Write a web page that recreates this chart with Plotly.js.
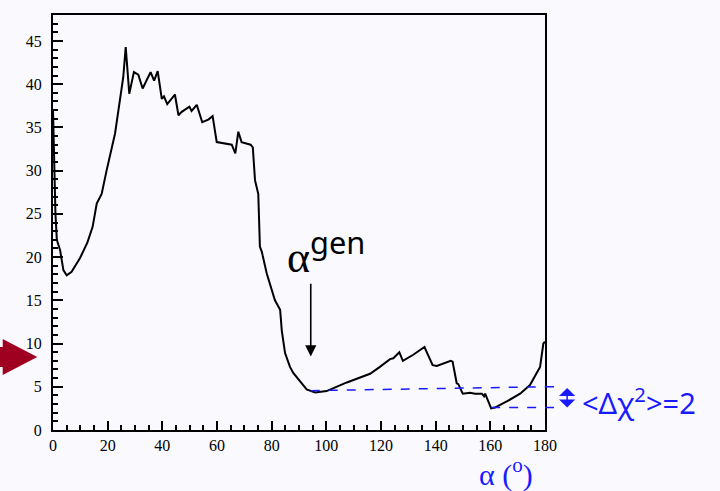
<!DOCTYPE html>
<html>
<head>
<meta charset="utf-8">
<script src="https://cdn.plot.ly/plotly-3.0.1.min.js"></script>
<style>html,body{margin:0;padding:0;background:#fafafe;}</style>
</head>
<body>
<div id="chart" style="width:720px;height:491px;"></div>
<script>
// alpha (degrees) and chi2 values
const alphaDeg = [0, 0.4, 0.9, 1.4, 2.6, 3.8, 5.0, 6.8, 9.9, 12.6, 14.5, 16.0, 17.2, 17.8, 19.6, 22.7, 25.7, 26.6, 27.9, 29.6,
  31.2, 32.8, 35.7, 37.0, 38.3, 39.8, 40.6, 41.8, 44.6, 45.9, 47.1, 49.9, 50.7, 52.6, 54.6, 56.8, 58.4, 59.9, 65.4, 66.7,
  67.8, 69.0, 72.3, 73.1, 73.9, 75.1, 75.7, 76.4, 78.2, 81.2, 83.1, 83.7, 84.9, 86.7, 87.9, 91.0, 92.8, 95.9, 100.1, 107.5,
  112.3, 116.0, 119.6, 123.3, 124.5, 126.7, 128.0, 131.8, 135.9, 137.3, 138.9, 140.4, 144.0, 145.5, 146.2, 147.7, 148.3, 149.9, 152.6, 154.4,
  156.9, 157.7, 158.1, 160.3, 161.7, 166.0, 170.9, 174.5, 178.2, 179.4, 180];
const chi2 = [37.0, 30.0, 25.0, 22.0, 20.8, 18.5, 17.9, 18.3, 19.9, 21.7, 23.5, 26.2, 26.9, 27.3, 30.0, 34.3, 40.8, 44.3, 38.9, 41.4,
  41.1, 39.5, 41.4, 40.4, 41.5, 38.3, 38.6, 37.7, 38.8, 36.4, 36.8, 37.4, 36.9, 37.6, 35.6, 35.9, 36.3, 33.3, 33.0, 32.0,
  34.5, 33.3, 33.0, 32.7, 28.9, 27.3, 21.2, 20.6, 18.1, 15.0, 13.9, 11.5, 8.9, 7.3, 6.6, 5.4, 4.7, 4.35, 4.5, 5.5,
  6.1, 6.5, 7.3, 8.2, 8.3, 9.0, 8.0, 8.7, 9.6, 8.7, 7.5, 7.4, 7.8, 8.0, 7.9, 5.4, 5.3, 4.2, 4.3, 4.2,
  4.2, 3.9, 4.2, 2.5, 2.6, 3.3, 4.2, 5.2, 7.3, 10.0, 10.2];
const xTickVals = [0, 20, 40, 60, 80, 100, 120, 140, 160, 180];
const yTickVals = [0, 5, 10, 15, 20, 25, 30, 35, 40, 45];
const alphaGen = 94.3;
const chi2AtGen = 4.55, chi2Upper = 5.0, chi2Min = 2.6, alphaMin = 160.3;
const arrowTail = 17.1, arrowTip = 8.5;

const bg = '#fafafe';
const blue = '#1a1aff';
const serif = 'Liberation Serif';
const comic = 'Noto Sans';

const trace = {
  x: alphaDeg, y: chi2, type: 'scatter', mode: 'lines',
  line: {color: '#000', width: 2, shape: 'linear'},
  hoverinfo: 'skip', showlegend: false
};

const layout = {
  width: 720, height: 491,
  margin: {l: 53, r: 175, t: 15, b: 61},
  paper_bgcolor: bg, plot_bgcolor: bg,
  showlegend: false,
  font: {family: serif},
  xaxis: {
    range: [0, 180], tickvals: xTickVals, ticks: 'inside', ticklen: 9, tickwidth: 2, tickcolor: '#000',
    minor: {dtick: 5, ticks: 'inside', ticklen: 5, tickwidth: 2, tickcolor: '#000'},
    showline: true, linecolor: '#000', linewidth: 2, mirror: true,
    showgrid: false, zeroline: false,
    tickfont: {family: serif, size: 16, color: '#000'}
  },
  yaxis: {
    range: [0, 48], tickvals: yTickVals, ticks: 'inside', ticklen: 10, tickwidth: 2, tickcolor: '#000',
    minor: {dtick: 1, ticks: 'inside', ticklen: 5, tickwidth: 2, tickcolor: '#000'},
    showline: true, linecolor: '#000', linewidth: 2, mirror: true,
    showgrid: false, zeroline: false,
    ticklabelstandoff: 6,
    tickfont: {family: serif, size: 16, color: '#000'}
  },
  shapes: [
    {type: 'line', xref: 'x', yref: 'y', x0: alphaGen, x1: 180, y0: chi2AtGen, y1: chi2Upper,
     line: {color: blue, width: 1.5, dash: 'dash'}},
    {type: 'line', xref: 'paper', yref: 'y', x0: 1.0, x1: 1.02, y0: chi2Upper, y1: chi2Upper,
     line: {color: blue, width: 1.5, dash: 'dash'}},
    {type: 'line', xref: 'x', yref: 'y', x0: alphaMin, x1: 180, y0: chi2Min, y1: chi2Min,
     line: {color: blue, width: 1.5, dash: 'dash'}},
    {type: 'line', xref: 'paper', yref: 'y', x0: 1.0, x1: 1.025, y0: chi2Min, y1: chi2Min,
     line: {color: blue, width: 1.5, dash: 'dash'}},
    {type: 'path', xref: 'paper', yref: 'paper', fillcolor: '#a00020', line: {width: 0},
     path: 'M -0.12 0.2 L -0.1022 0.2 L -0.1022 0.2193 L -0.0319 0.1759 L -0.1022 0.1325 L -0.1022 0.1518 L -0.12 0.1518 Z'}
  ],
  annotations: [
    {xref: 'x', yref: 'y', x: 99.9, y: 20.6, showarrow: false, xanchor: 'center', yanchor: 'middle',
     text: 'α<sup><span style="font-family:Noto Sans">gen</span></sup>', font: {family: serif, size: 44, color: '#000'}},
    {xref: 'x', yref: 'y', axref: 'x', ayref: 'y', x: alphaGen, y: arrowTip, ax: alphaGen, ay: arrowTail,
     showarrow: true, arrowhead: 2, arrowsize: 1.4, arrowwidth: 1.6, arrowcolor: '#000', text: ''},
    {xref: 'paper', yref: 'y', x: 1.045, y: chi2Min, ax: 0, ay: -21, showarrow: true,
     arrowhead: 1, arrowside: 'end+start', arrowsize: 1.8, arrowwidth: 1.5, arrowcolor: blue, text: ''},
    {xref: 'paper', yref: 'y', x: 1.072, y: 3.3, showarrow: false, xanchor: 'left', yanchor: 'middle',
     text: '&lt;Δχ<sup>2</sup>&gt;=2', font: {family: comic, size: 29, color: blue}},
    {xref: 'paper', yref: 'paper', x: 0.92, y: -0.05, showarrow: false, xanchor: 'center', yanchor: 'top',
     text: 'α (<sup>o</sup>)', font: {family: serif, size: 30, color: blue}}
  ]
};

Plotly.newPlot('chart', [trace], layout, {staticPlot: true, displayModeBar: false});
</script>
</body>
</html>
